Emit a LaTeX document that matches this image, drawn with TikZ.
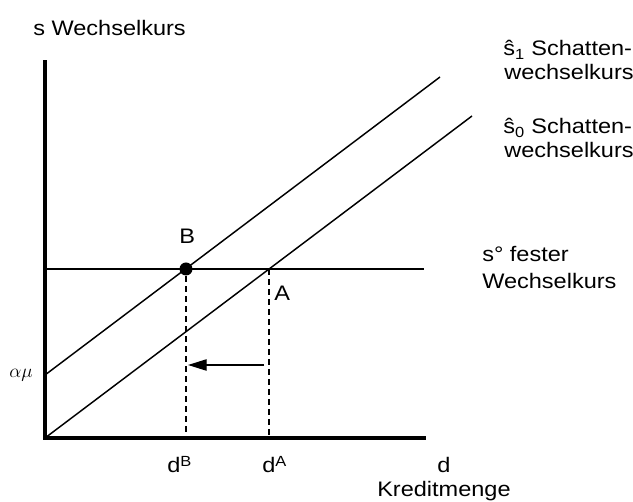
\documentclass[tikz,border=0pt]{standalone}
\usepackage{fontspec}
\setmainfont{Liberation Sans}[FakeStretch=1.12]
\usetikzlibrary{arrows.meta}
\begin{document}
\begin{tikzpicture}[x=0.75pt,y=-0.75pt,
  thin line/.style={line width=1.1pt},
  axis line/.style={line width=2.6pt},
  dash line/.style={line width=1.1pt,dash pattern=on 4.5pt off 3pt},
  lbl/.style={inner sep=0pt,anchor=base west,font=\fontsize{15.75}{18}\selectfont},
  lblr/.style={inner sep=0pt,anchor=base west,font=\fontsize{15.75}{18}\selectfont,align=left}]
\useasboundingbox (0,0) rectangle (633,502);
% coordinates
\coordinate (O) at (45,438);
\coordinate (ytop) at (45,62);
\coordinate (xend) at (424,438);
\coordinate (s0end) at (472,116);
\coordinate (s1start) at (45,375);
\coordinate (s1end) at (440,77);
\coordinate (hstart) at (45,269);
\coordinate (hend) at (424,269);
\coordinate (A) at (269,269);
\coordinate (dB) at (186,438);
\coordinate (dA) at (269,438);
\coordinate (arrS) at (264,365);
\coordinate (arrE) at (188,365);
% lines
\draw[thin line] (O) -- (s0end);
\draw[thin line] (s1start) -- (s1end);
\draw[thin line] (hstart) -- (hend);
\node[circle,fill=black,inner sep=0pt,minimum size=9.75pt] (B) at (186,269) {};
\draw[dash line] (B) -- (dB);
\draw[dash line] (A) -- (dA);
\draw[line width=1pt,-{Triangle[length=14pt,width=8.5pt]}] (arrS) -- (arrE);
\draw[axis line,line cap=rect] (ytop) -- (O) -- (xend);
% labels
\node[lbl] (ylab) at (33,36) {s Wechselkurs};
\node[lbl] (s1a) at (503,56) {ŝ\textsubscript{1} Schatten-};
\node[lbl] (s1b) at (504,80) {wechselkurs};
\node[lbl] (s0a) at (503,134) {ŝ\textsubscript{0} Schatten-};
\node[lbl] (s0b) at (504,158) {wechselkurs};
\node[lbl] (sfa) at (482,262) {s° fester};
\node[lbl] (sfb) at (482,289) {Wechselkurs};
\node[lbl] (Blab) at (179,244) {B};
\node[lbl] (Alab) at (274,301) {A};
\node[lbl] (am) at (9,378) {$\alpha\mu$};
\node[lbl] (dBl) at (167,473) {d\textsuperscript{B}};
\node[lbl] (dAl) at (262,473) {d\textsuperscript{A}};
\node[lbl] (dl) at (437,473) {d};
\node[lbl] (kr) at (377,497) {Kreditmenge};
\end{tikzpicture}
\end{document}
